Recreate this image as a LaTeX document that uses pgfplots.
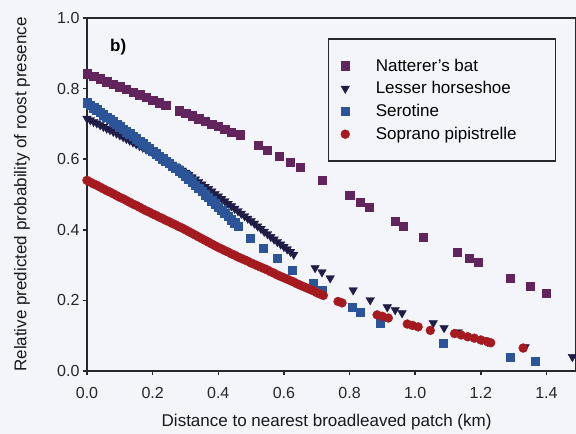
\documentclass[border=0pt]{standalone}
\usepackage{fontspec}
\setmainfont{Liberation Sans}
\usepackage{pgfplots}
\pgfplotsset{compat=1.18}
\definecolor{natt}{RGB}{98,36,92}
\definecolor{lesser}{RGB}{32,28,72}
\definecolor{sero}{RGB}{44,84,152}
\definecolor{sopr}{RGB}{164,26,30}
\definecolor{bgcol}{RGB}{244,245,250}
\definecolor{axcol}{RGB}{38,40,46}
\begin{document}
\begin{tikzpicture}
\fill[bgcol] (-87pt,-63pt) rectangle (489pt,371pt);
\begin{axis}[
    name=ax,
    scale only axis,
    width=489pt, height=353pt,
    xmin=0, xmax=1.49, ymin=0, ymax=1,
    xtick={0,0.2,0.4,0.6,0.8,1.0,1.2,1.4},
    ytick={0,0.2,0.4,0.6,0.8,1.0},
    xtick pos=left, ytick pos=left,
    tick align=outside,
    major tick length=4pt,
    tick style={line width=1.5pt, color=axcol},
    axis line style={line width=1.8pt, color=axcol},
    /pgf/number format/.cd, fixed, fixed zerofill, precision=1, assume math mode=true,
    /pgfplots/.cd,
    tick label style={font=\fontsize{16}{16}\selectfont, text=black!85},
    xticklabel style={yshift=-9pt},
    label style={font=\fontsize{17}{20}\selectfont, text=black!90},
    xlabel={Distance to nearest broadleaved patch (km)},
    ylabel={Relative predicted probability of roost presence},
    xlabel style={at={(axis description cs:0.49,-0.145)}, anchor=center},
    ylabel style={at={(axis description cs:-0.133,0.5)}, anchor=center},
    legend cell align=left,
    legend style={at={(0.493,0.943)}, anchor=north west, draw=axcol,
        line width=1.4pt, fill=none, font=\fontsize{17}{19}\selectfont,
        inner xsep=12pt, inner ysep=18pt, row sep=5pt},
]
\addplot[only marks, mark=square*, mark size=4.2pt,
    mark options={fill=natt, draw=natt, line width=0.3pt}] coordinates {
(0.00,0.842) (0.02,0.835) (0.04,0.828) (0.06,0.820) (0.08,0.813) (0.10,0.805)
(0.12,0.798) (0.14,0.790) (0.16,0.783) (0.18,0.775) (0.20,0.768) (0.22,0.760)
(0.24,0.753) (0.28,0.738) (0.30,0.730) (0.32,0.723) (0.34,0.715) (0.36,0.708)
(0.38,0.700) (0.40,0.693) (0.42,0.685) (0.44,0.677) (0.466,0.669)
(0.521,0.640) (0.549,0.626) (0.585,0.609) (0.619,0.592) (0.649,0.578)
(0.716,0.541) (0.800,0.499) (0.832,0.479) (0.860,0.465) (0.939,0.425)
(0.963,0.411) (1.024,0.380) (1.128,0.337) (1.165,0.320) (1.192,0.309)
(1.290,0.263) (1.351,0.241) (1.399,0.221)
};
\addlegendentry{\makebox[190pt][l]{\hspace*{24pt}Natterer's bat}}
\addplot[only marks, mark=triangle*, mark size=5pt,
    mark options={rotate=180, fill=lesser, draw=lesser, line width=0.3pt}] coordinates {
(0.00,0.715) (0.01,0.711) (0.02,0.706) (0.03,0.702) (0.04,0.697) (0.05,0.692)
(0.06,0.687) (0.07,0.683) (0.08,0.678) (0.09,0.673) (0.10,0.668) (0.11,0.663)
(0.12,0.658) (0.13,0.653) (0.14,0.648) (0.15,0.643) (0.16,0.638) (0.17,0.633)
(0.18,0.628) (0.19,0.623) (0.20,0.618) (0.21,0.613) (0.22,0.607) (0.23,0.602)
(0.24,0.596) (0.25,0.591) (0.26,0.585) (0.27,0.580) (0.28,0.574) (0.29,0.568)
(0.30,0.562) (0.31,0.556) (0.32,0.549) (0.33,0.543) (0.34,0.536) (0.35,0.529)
(0.36,0.522) (0.37,0.516) (0.38,0.509) (0.39,0.502) (0.40,0.495) (0.41,0.488)
(0.42,0.481) (0.43,0.474) (0.44,0.467) (0.45,0.460) (0.46,0.453) (0.47,0.446)
(0.48,0.439) (0.49,0.432) (0.50,0.425) (0.51,0.418) (0.52,0.410) (0.53,0.403)
(0.54,0.395) (0.55,0.388) (0.56,0.380) (0.57,0.373) (0.58,0.366) (0.59,0.359)
(0.60,0.352) (0.61,0.345) (0.62,0.338) (0.63,0.330)
(0.695,0.292) (0.716,0.280) (0.741,0.263) (0.811,0.229) (0.863,0.201)
(0.915,0.181) (0.939,0.173) (0.960,0.164) (1.055,0.136) (1.088,0.122)
(1.131,0.110) (1.204,0.088) (1.220,0.083) (1.335,0.068) (1.479,0.040)
};
\addlegendentry{\hspace*{24pt}Lesser horseshoe}
\addplot[only marks, mark=square*, mark size=4.2pt,
    mark options={fill=sero, draw=sero, line width=0.3pt}] coordinates {
(0.00,0.760) (0.01,0.753) (0.02,0.746) (0.03,0.740) (0.04,0.733) (0.05,0.726)
(0.06,0.719) (0.07,0.713) (0.08,0.706) (0.09,0.699) (0.10,0.692) (0.11,0.685)
(0.12,0.678) (0.13,0.672) (0.14,0.665) (0.15,0.658) (0.16,0.651) (0.17,0.644)
(0.18,0.637) (0.19,0.630) (0.20,0.623) (0.21,0.616) (0.22,0.609) (0.23,0.602)
(0.24,0.595) (0.25,0.588) (0.26,0.581) (0.27,0.574) (0.28,0.567) (0.29,0.560)
(0.30,0.553) (0.31,0.545) (0.32,0.536) (0.33,0.527) (0.34,0.518) (0.35,0.509)
(0.36,0.500) (0.37,0.492) (0.38,0.483) (0.39,0.474) (0.40,0.465) (0.41,0.456)
(0.42,0.447) (0.43,0.438) (0.44,0.429) (0.45,0.420) (0.46,0.411)
(0.497,0.377) (0.537,0.348) (0.579,0.320) (0.625,0.286) (0.689,0.249)
(0.716,0.229) (0.808,0.181) (0.832,0.167) (0.893,0.136) (1.085,0.079)
(1.290,0.040) (1.366,0.028)
};
\addlegendentry{\hspace*{24pt}Serotine}
\addplot[only marks, mark=*, mark size=4.5pt,
    mark options={fill=sopr, draw=sopr, line width=0.3pt}] coordinates {
(0.00,0.540) (0.01,0.535) (0.02,0.530) (0.03,0.526) (0.04,0.521) (0.05,0.516)
(0.06,0.511) (0.07,0.507) (0.08,0.502) (0.09,0.497) (0.10,0.492) (0.11,0.488)
(0.12,0.483) (0.13,0.478) (0.14,0.473) (0.15,0.469) (0.16,0.464) (0.17,0.459)
(0.18,0.454) (0.19,0.450) (0.20,0.445) (0.21,0.441) (0.22,0.436) (0.23,0.432)
(0.24,0.427) (0.25,0.423) (0.26,0.418) (0.27,0.414) (0.28,0.409) (0.29,0.405)
(0.30,0.400) (0.31,0.395) (0.32,0.390) (0.33,0.385) (0.34,0.380) (0.35,0.375)
(0.36,0.370) (0.37,0.365) (0.38,0.360) (0.39,0.355) (0.40,0.350) (0.41,0.346)
(0.42,0.341) (0.43,0.337) (0.44,0.332) (0.45,0.328) (0.46,0.323) (0.47,0.319)
(0.48,0.315) (0.49,0.311) (0.50,0.306) (0.51,0.302) (0.52,0.298) (0.53,0.294)
(0.54,0.290) (0.55,0.286) (0.56,0.281) (0.57,0.277) (0.58,0.272) (0.59,0.268)
(0.60,0.264) (0.61,0.260) (0.62,0.256) (0.63,0.252) (0.64,0.247) (0.65,0.243)
(0.66,0.239) (0.67,0.235) (0.68,0.231) (0.69,0.227) (0.70,0.222) (0.71,0.218)
(0.72,0.214) (0.765,0.197) (0.777,0.193) (0.884,0.159) (0.900,0.155)
(0.918,0.150) (0.976,0.133) (0.992,0.129) (1.009,0.125) (1.046,0.115)
(1.120,0.106) (1.140,0.102) (1.160,0.097) (1.180,0.093) (1.200,0.088)
(1.220,0.083) (1.230,0.080) (1.329,0.065)
};
\addlegendentry{\hspace*{24pt}Soprano pipistrelle}
\node[font=\bfseries\fontsize{17}{17}\selectfont] at (axis cs:0.095,0.918) {b)};
\end{axis}
\pgfresetboundingbox
\useasboundingbox (-87pt,-63pt) rectangle (489pt,371pt);
\end{tikzpicture}
\end{document}
